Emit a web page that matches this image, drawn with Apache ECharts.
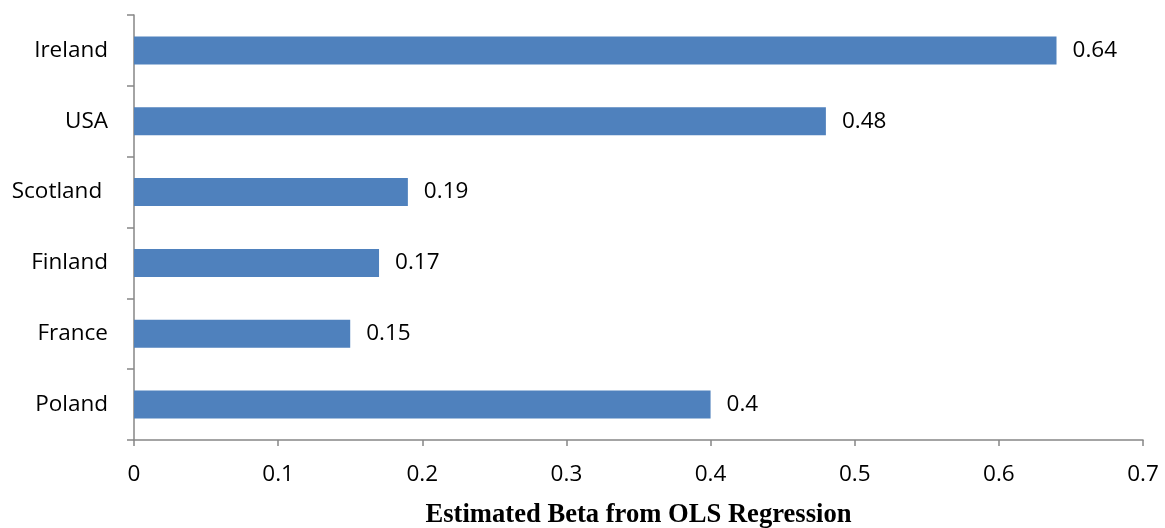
<!DOCTYPE html>
<html>
<head>
<meta charset="utf-8">
<script src="https://cdn.jsdelivr.net/npm/echarts@6/dist/echarts.min.js"></script>
<style>
  html, body { margin: 0; padding: 0; background: #ffffff; }
  #chart { width: 1165px; height: 528px; }
</style>
</head>
<body>
<div id="chart"></div>
<script>
// Countries listed bottom-to-top along the category axis
const countries = ['Poland', 'France', 'Finland', 'Scotland ', 'USA', 'Ireland'];
// Estimated beta for each country
const betas = [0.4, 0.15, 0.17, 0.19, 0.48, 0.64];
// Value axis tick labels
const xTicks = ['0', '0.1', '0.2', '0.3', '0.4', '0.5', '0.6', '0.7'];

const labelFont = '"Open Sans", Calibri, sans-serif';
const axisGrey = '#868686';

const chart = echarts.init(document.getElementById('chart'), null, { renderer: 'canvas' });
chart.setOption({
  animation: false,
  backgroundColor: '#ffffff',
  grid: { left: 134, right: 22, top: 15, bottom: 88, containLabel: false, outerBoundsMode: 'none' },
  xAxis: {
    type: 'value',
    min: 0,
    max: 0.7,
    interval: 0.1,
    name: 'Estimated Beta from OLS Regression',
    nameLocation: 'middle',
    nameGap: 62,
    nameTextStyle: {
      fontFamily: '"Liberation Serif", "Times New Roman", serif',
      fontWeight: 'bold',
      fontSize: 26.6,
      color: '#000000'
    },
    axisLine: { show: true, lineStyle: { color: axisGrey, width: 1.5 } },
    axisTick: { show: true, length: 6, inside: false, lineStyle: { color: axisGrey, width: 1.5 } },
    splitLine: { show: false },
    axisLabel: {
      fontFamily: labelFont,
      fontSize: 22.5,
      color: '#000000',
      margin: 23,
      formatter: (v) => xTicks[Math.round(v * 10)] ?? String(v)
    }
  },
  yAxis: {
    type: 'category',
    data: countries,
    axisLine: { show: true, lineStyle: { color: axisGrey, width: 1.5 } },
    axisTick: { show: true, length: 7, alignWithLabel: false, lineStyle: { color: axisGrey, width: 1.5 } },
    axisLabel: {
      fontFamily: labelFont,
      fontSize: 22.5,
      color: '#000000',
      margin: 26
    }
  },
  series: [{
    type: 'bar',
    data: betas,
    barWidth: 28,
    itemStyle: { color: '#4F81BD' },
    label: {
      show: true,
      position: 'right',
      distance: 16,
      fontFamily: labelFont,
      fontSize: 22.5,
      color: '#000000',
      formatter: (p) => String(p.value)
    }
  }]
});
</script>
</body>
</html>
